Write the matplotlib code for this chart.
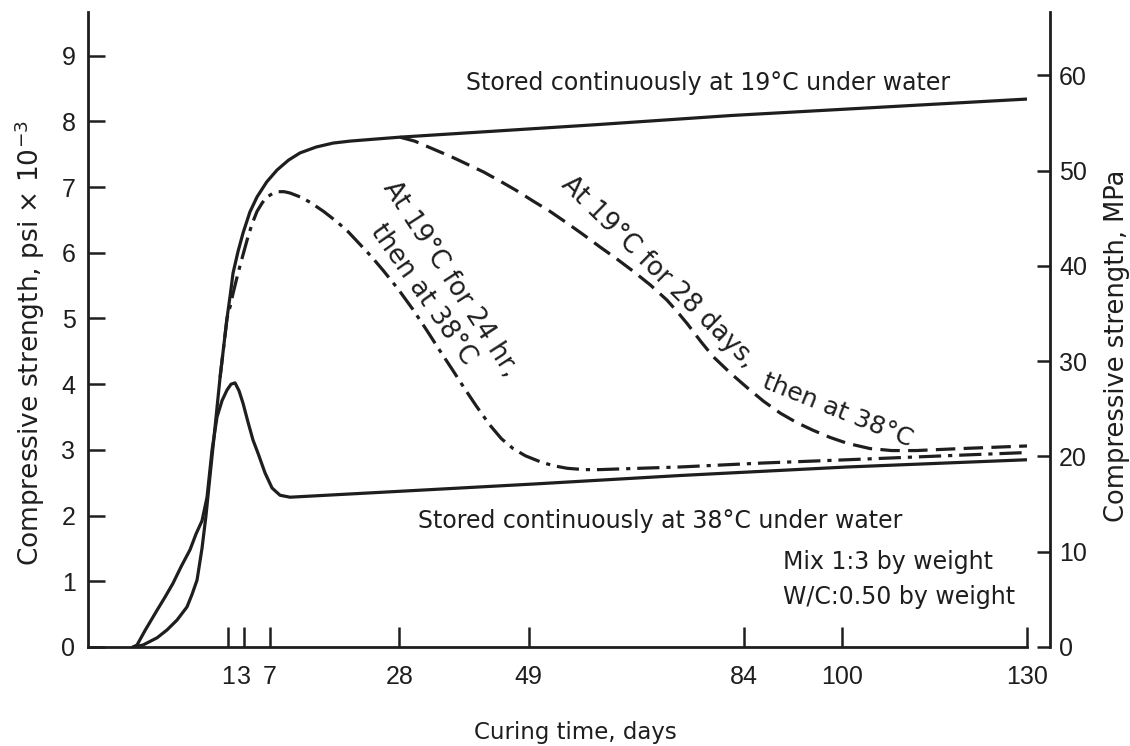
import numpy as np
import matplotlib
matplotlib.use("Agg")
import matplotlib.pyplot as plt

# ---------------- data ----------------
# Stored continuously at 19 C under water
days_19 = [0, 0.105, 0.253, 0.358, 0.463, 0.568, 0.621, 0.674, 0.726, 0.768, 0.81,
           0.853, 0.916, 0.989, 1.3, 1.625, 2.25, 2.875, 3.9, 5.0, 6.5, 8.14, 10.0,
           11.87, 14.5, 17.24, 20.0, 24.0, 28.1, 60, 82, 130]
psi_19 = [0, 0.03, 0.14, 0.26, 0.41, 0.61, 0.80, 1.02, 1.5, 2.0, 2.6,
          3.2, 4.1, 5.0, 5.38, 5.69, 6.02, 6.3, 6.62, 6.85, 7.08, 7.26, 7.41,
          7.52, 7.61, 7.67, 7.70, 7.73, 7.76, 7.95, 8.09, 8.34]

# Stored continuously at 38 C under water
days_38 = [0, 0.042, 0.126, 0.253, 0.337, 0.421, 0.505, 0.6, 0.663, 0.726, 0.779,
           0.832, 0.884, 0.937, 0.989, 1.375, 1.875, 2.375, 2.875, 3.62, 4.38,
           5.15, 6.23, 7.33, 8.62, 10.25, 28.1, 49.7, 73.6, 100.8, 130]
psi_38 = [0, 0.03, 0.25, 0.56, 0.76, 0.97, 1.22, 1.48, 1.72, 1.92, 2.28,
          3.0, 3.5, 3.75, 3.91, 4.0, 4.02, 3.9, 3.71, 3.42, 3.15,
          2.95, 2.65, 2.42, 2.31, 2.28, 2.37, 2.48, 2.61, 2.74, 2.85]

# At 19 C for 24 hr, then at 38 C
days_24h = [0.916, 0.989, 1.3, 1.625, 2.25, 2.875, 3.46, 4.2, 5.0, 5.8, 6.54,
            7.4, 8.3, 9.3, 10.25, 11.9, 13.5, 15.7, 17.9, 19.7, 21.5, 23.5,
            25.4, 27.8, 30.2, 32.4, 34.6, 36.5, 38.5, 40.5, 42.7, 44.6, 46.5,
            48.5, 50.9, 53.0, 55.3, 58.0, 60.6, 67.0, 73.6, 87.0, 100.8, 119.2, 130]
psi_24h = [4.1, 5.0, 5.2, 5.38, 5.69, 5.97, 6.19, 6.43, 6.63, 6.76, 6.85,
           6.90, 6.93, 6.93, 6.91, 6.85, 6.77, 6.63, 6.47, 6.32, 6.14, 5.94,
           5.73, 5.45, 5.14, 4.83, 4.51, 4.24, 3.95, 3.67, 3.38, 3.17, 3.02,
           2.91, 2.82, 2.76, 2.72, 2.70, 2.70, 2.72, 2.74, 2.80, 2.85, 2.92, 2.96]

# At 19 C for 28 days, then at 38 C
days_28d = [28.1, 30.5, 33.5, 36.5, 39.0, 41.7, 44.4, 47.0, 49.7, 52.5, 55.3,
            58.0, 60.6, 63.3, 66.0, 68.8, 71.5, 73.2, 74.8, 77.0, 79.0, 81.8,
            84.5, 87.2, 89.9, 92.5, 95.2, 98.0, 100.8, 104.5, 108.0, 112.0,
            119.2, 130]
psi_28d = [7.76, 7.70, 7.58, 7.46, 7.35, 7.23, 7.09, 6.95, 6.79, 6.63, 6.45,
           6.27, 6.09, 5.91, 5.72, 5.51, 5.28, 5.10, 4.92, 4.65, 4.42, 4.17,
           3.95, 3.74, 3.56, 3.42, 3.30, 3.19, 3.10, 3.02, 2.99, 2.99,
           3.02, 3.06]

xtick_days = [1, 3, 7, 28, 49, 84, 100, 130]
xtick_labels = ["1", "3", "7", "28", "49", "84", "100", "130"]
psi_ticks = list(range(0, 10))
mpa_ticks = [0, 10, 20, 30, 40, 50, 60]
PSI_TO_MPA = 6.895

# non-uniform time axis of the original (day -> drawing position)
KNOT_DAYS = [-1, 0, 1, 3, 7, 130, 200]
KNOT_POS = [38, 133, 228, 244, 270, 1027, 1457.8]

# ---------------- styling ----------------
INK = "#1e1e1e"
plt.rcParams["lines.scale_dashes"] = False
plt.rcParams["font.family"] = ["DejaVu Sans"]
TXT = dict(family=["DejaVu Sans"], color=INK)
TICKFONT = ["Liberation Sans", "DejaVu Sans"]


def fwd(d):
    return np.interp(d, KNOT_DAYS, KNOT_POS)


def inv(p):
    return np.interp(p, KNOT_POS, KNOT_DAYS)


fig = plt.figure(figsize=(11.3, 7.46), dpi=100)
fig.patch.set_facecolor("white")
ax = fig.add_axes([88 / 1130, 99 / 746, 939 / 1130, 635 / 746])
ax.set_xscale("function", functions=(fwd, inv))
ax.set_xlim(-0.474, 130)
ax.set_ylim(0, 9.665)

LW = 2.3
ax.plot(days_19, psi_19, color=INK, lw=LW, solid_capstyle="round",
        solid_joinstyle="round")
ax.plot(days_38, psi_38, color=INK, lw=LW, solid_capstyle="round",
        solid_joinstyle="round")
ax.plot(days_24h, psi_24h, color=INK, lw=LW, linestyle=(0, (16, 5, 3, 5)))
ax.plot(days_28d, psi_28d, color=INK, lw=LW, linestyle=(0, (14, 6)))

for s in ["top", "right"]:
    ax.spines[s].set_visible(False)
for s in ["left", "bottom"]:
    ax.spines[s].set_linewidth(2.0)
    ax.spines[s].set_color(INK)

ax.set_xticks(xtick_days, xtick_labels)
ax.set_yticks(psi_ticks)
ax.tick_params(axis="x", direction="in", length=14.4, width=1.8, color=INK,
               pad=13, labelsize=18, labelcolor=INK)
ax.tick_params(axis="y", direction="in", length=12, width=1.8, color=INK,
               pad=9, labelsize=18, labelcolor=INK)
for lab in ax.get_xticklabels() + ax.get_yticklabels():
    lab.set_family(TICKFONT)

ax.set_xlabel("Curing time, days", fontsize=16.5, va="center", **TXT)
ax.xaxis.set_label_coords(0.5186, -0.134)
ax.set_ylabel(r"Compressive strength, psi $\times$ 10$^{-3}$", fontsize=19,
              va="center", **TXT)
ax.yaxis.set_label_coords(-0.0618, 0.479)

# right-hand MPa axis
ax2 = ax.twinx()
ax2.set_ylim(0, 9.665 * PSI_TO_MPA)
for s in ["top", "left", "bottom"]:
    ax2.spines[s].set_visible(False)
ax2.spines["right"].set_position(("axes", (1050 - 88) / 939))
ax2.spines["right"].set_linewidth(2.0)
ax2.spines["right"].set_color(INK)
ax2.set_yticks(mpa_ticks)
ax2.tick_params(axis="y", direction="in", length=9.6, width=1.8, color=INK,
                pad=6.5, labelsize=18, labelcolor=INK)
for lab in ax2.get_yticklabels():
    lab.set_family(TICKFONT)
ax2.set_ylabel("Compressive strength, MPa", fontsize=18.5, va="center",
               rotation=90, **TXT)
ax2.yaxis.set_label_coords(1.0958, 0.474)


def px(x, y):
    return ((x - 88) / 939, (647 - y) / 635)


ax.text(*px(708, 83), "Stored continuously at 19°C under water", fontsize=17,
        ha="center", va="center", transform=ax.transAxes, **TXT)
ax.text(*px(660, 521), "Stored continuously at 38°C under water", fontsize=17,
        ha="center", va="center", transform=ax.transAxes, **TXT)
ax.text(*px(783, 562), "Mix 1:3 by weight", fontsize=17,
        ha="left", va="center", transform=ax.transAxes, **TXT)
ax.text(*px(783, 597), "W/C:0.50 by weight", fontsize=17,
        ha="left", va="center", transform=ax.transAxes, **TXT)

ax.text(*px(450, 279), "At 19°C for 24 hr,", fontsize=18.5, rotation=-57,
        rotation_mode="anchor", ha="center", va="center",
        transform=ax.transAxes, **TXT)
ax.text(*px(423, 295), "then at 38°C", fontsize=18.5, rotation=-55,
        rotation_mode="anchor", ha="center", va="center",
        transform=ax.transAxes, **TXT)
ax.text(*px(658, 272), "At 19°C for 28 days,", fontsize=18.5, rotation=-44.5,
        rotation_mode="anchor", ha="center", va="center",
        transform=ax.transAxes, **TXT)
ax.text(*px(838, 410), "then at 38°C", fontsize=18, rotation=-22,
        rotation_mode="anchor", ha="center", va="center",
        transform=ax.transAxes, **TXT)

fig.savefig("out.png", dpi=100, facecolor="white")
